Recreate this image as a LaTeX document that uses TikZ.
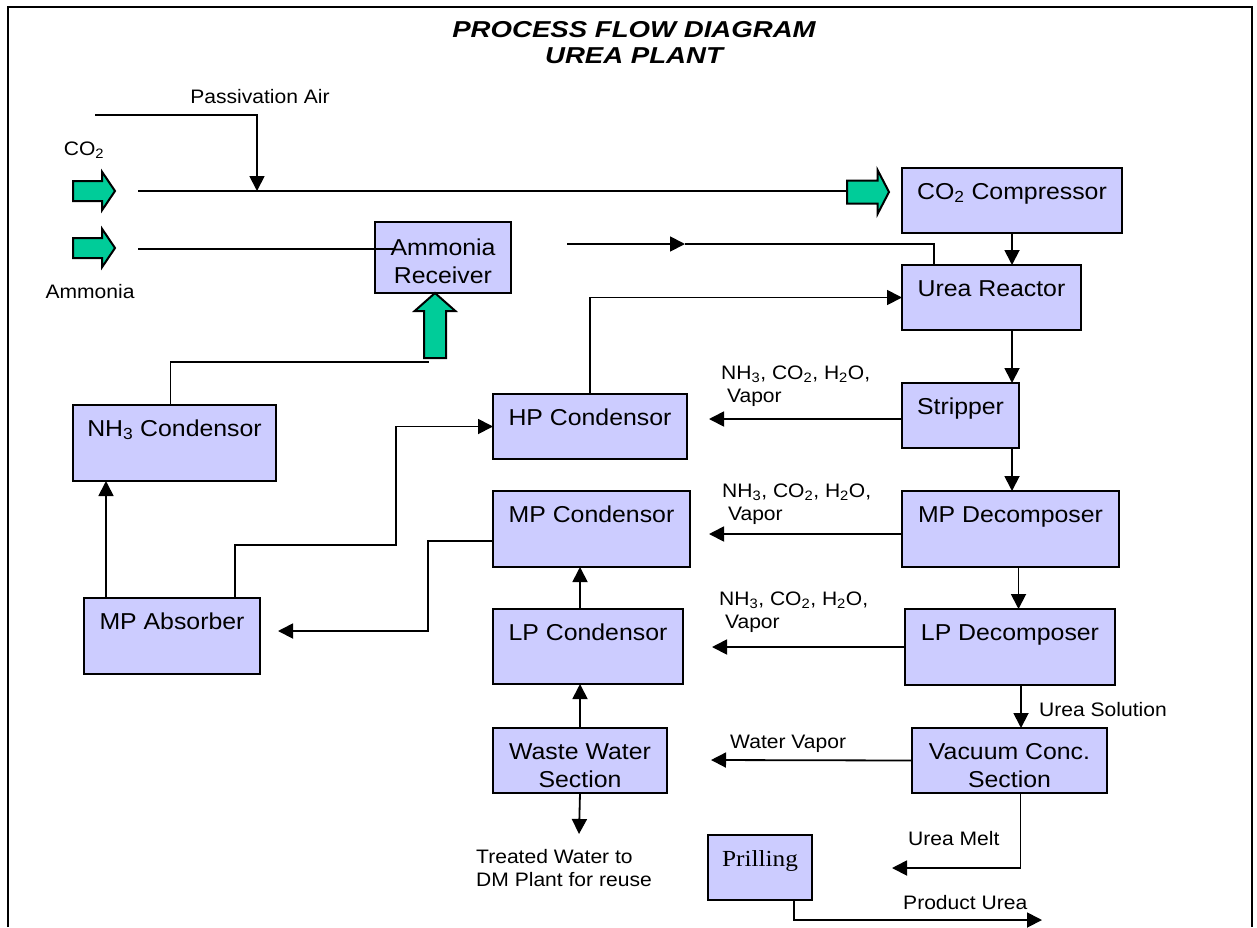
\documentclass[tikz,border=0pt]{standalone}
\usepackage{fontspec}
\setmainfont[FakeStretch=1.08]{Liberation Sans}
\newfontfamily\prillfont[FakeStretch=1.1]{Liberation Serif}
\newfontfamily\titlefont[FakeStretch=1.2]{Liberation Sans}
\usetikzlibrary{arrows.meta,shapes.arrows}

\definecolor{boxfill}{HTML}{CCCCFF}
\definecolor{feedgreen}{HTML}{00CC99}

\newcommand{\boxfont}{\fontsize{23}{28}\selectfont}
\newcommand{\lblfont}{\fontsize{19.5}{23}\selectfont}

\begin{document}
\begin{tikzpicture}[x=1pt,y=-1pt,
    unit/.style={draw,fill=boxfill,line width=2pt,inner sep=0pt,outer sep=0pt,
                 text height=31pt,align=center,font=\boxfont},
    unit2/.style={unit,text height=59.5pt,text depth=5.5pt},
    flow/.style={line width=1.8pt,-{Triangle[length=15pt,width=15pt]}},
    pipe/.style={line width=1.8pt},
    feed/.style={single arrow,draw,fill=feedgreen,line width=2pt,inner xsep=0pt,
                 outer sep=0pt,anchor=tail,single arrow head indent=0pt},
    lbl/.style={font=\lblfont,inner sep=0pt,anchor=base west,align=left}]

      \useasboundingbox (0,0) rectangle (1257,927);
      \draw[line width=2pt] (8,927) -- (8,7) -- (1252,7) -- (1252,927);

      \node[font={\titlefont\bfseries\itshape\fontsize{23}{26}\selectfont},
            align=center,inner sep=0pt,anchor=base] (title) at (634,63)
            {PROCESS FLOW DIAGRAM\\UREA PLANT};

      % right column
      \node[unit,minimum width=220pt,text depth=34pt] (co2cmp) at (1012,200.5) {CO\textsubscript{2} Compressor};
      \node[unit,minimum width=179pt,text depth=34pt] (reactor) at (991.5,297.5) {Urea Reactor};
      \node[unit,minimum width=117pt,text depth=34pt] (stripper) at (960.5,415.5) {Stripper};
      \node[unit,minimum width=217pt,text depth=45pt] (mpdec) at (1010.5,529) {MP Decomposer};
      \node[unit,minimum width=210pt,text depth=45pt] (lpdec) at (1010,647) {LP Decomposer};
      \node[unit2,minimum width=195pt] (vacuum) at (1009.5,760.5) {Vacuum Conc.\\Section};
      \node[unit,minimum width=104pt,text depth=34pt,font={\prillfont\boxfont}] (prilling) at (760,867.5) {Prilling};

      % middle column
      \node[unit,minimum width=194pt,text depth=34pt] (hpc) at (590,426.5) {HP Condensor};
      \node[unit,minimum width=197pt,text depth=45pt] (mpc) at (591.5,529) {MP Condensor};
      \node[unit,minimum width=190pt,text depth=44pt] (lpc) at (588,646.5) {LP Condensor};
      \node[unit2,minimum width=174pt] (wws) at (580,760.5) {Waste Water\\Section};

      % left column
      \node[unit2,minimum width=136pt,text height=61.5pt,text depth=9.5pt] (receiver) at (443,257.5) {Ammonia\\Receiver};
      \node[unit,minimum width=203pt,text depth=45pt] (nh3c) at (174.5,443) {NH\textsubscript{3} Condensor};
      \node[unit,minimum width=176pt,text depth=45pt] (mpa) at (172,636) {MP Absorber};

      % feed arrows
      \node[feed,minimum height=42pt,inner ysep=9pt,single arrow head extend=9pt,
            single arrow tip angle=112] (co2feed) at (73,191) {};
      \node[feed,minimum height=42pt,inner ysep=9pt,single arrow head extend=9pt,
            single arrow tip angle=112] (nh3feed) at (73,248) {};
      \node[feed,minimum height=42pt,inner ysep=10.5pt,single arrow head extend=10.5pt,
            single arrow tip angle=125] (cmpfeed) at (847,192) {};

      % labels
      \node[lbl,anchor=base] (passair) at (260,103) {Passivation Air};
      \node[lbl,anchor=base] (co2lbl) at (84,155) {CO\textsubscript{2}};
      \node[lbl,anchor=base] (nh3lbl) at (90,298) {Ammonia};
      \node[lbl] (hpvap) at (721,402) {NH\textsubscript{3}, CO\textsubscript{2}, H\textsubscript{2}O,\\\ Vapor};
      \node[lbl] (mpvap) at (722,520) {NH\textsubscript{3}, CO\textsubscript{2}, H\textsubscript{2}O,\\\ Vapor};
      \node[lbl] (lpvap) at (719,628) {NH\textsubscript{3}, CO\textsubscript{2}, H\textsubscript{2}O,\\\ Vapor};
      \node[lbl] (wvap) at (730,748) {Water Vapor};
      \node[lbl] (usol) at (1039,716) {Urea Solution};
      \node[lbl] (umelt) at (908,845) {Urea Melt};
      \node[lbl] (prod) at (903,909) {Product Urea};
      \node[lbl] (treat) at (476,886) {Treated Water to\\DM Plant for reuse};

      % free ends and bends
      \coordinate (pa) at (95,115);
      \coordinate (pajoin) at (257,191);
      \coordinate (co2start) at (138,191);
      \coordinate (nh3start) at (138,249);
      \coordinate (nh3end) at (395,249);
      \coordinate (rcvout) at (567,244);
      \coordinate (rcvmid) at (685,244);
      \coordinate (rcvjoin) at (934,264);
      \coordinate (hpin) at (709,419);
      \coordinate (mpin) at (709,534);
      \coordinate (lpin) at (712,647);
      \coordinate (wvin) at (711,760);
      \coordinate (treated) at (579,834);
      \coordinate (meltend) at (892,868);
      \coordinate (prodend) at (1042,920);
      \coordinate (nh3ret) at (429,362);
      \coordinate (bendA) at (396,545);
      \coordinate (bendB) at (428,541);
      \coordinate (mpain) at (278,631);

      \draw[flow] (pa) -| (pajoin);
      \draw[pipe] (co2start) -- (co2start -| cmpfeed.tail);
      \draw[pipe] (nh3start) -- (nh3end);
      \draw[flow] (rcvout) -- (rcvmid);
      \draw[pipe] (rcvmid) -| (rcvjoin);
      \draw[flow] (hpc.north) |- (reactor.west);
      \draw[flow] (co2cmp.south) -- (co2cmp.south |- reactor.north);
      \draw[flow] (reactor.south -| co2cmp.south) -- (stripper.north -| co2cmp.south);
      \draw[flow] (stripper.south -| co2cmp.south) -- (mpdec.north -| co2cmp.south);
      \draw[flow] ([xshift=8pt]mpdec.south) -- ([xshift=8pt]mpdec.south |- lpdec.north);
      \draw[flow] ([xshift=11pt]lpdec.south) -- ([xshift=11pt]lpdec.south |- vacuum.north);
      \draw[flow] ([xshift=11pt]vacuum.south) |- (meltend);
      \draw[flow] ([xshift=34pt]prilling.south) |- (prodend);
      \draw[flow] (hpin -| stripper.west) -- (hpin);
      \draw[flow] (mpin -| mpdec.west) -- (mpin);
      \draw[flow] (lpdec.west) -- (lpin);
      \draw[flow] (vacuum.west) -- (wvin);
      \draw[flow] (wws.north) -- (wws.north |- lpc.south);
      \draw[flow] (lpc.north -| wws.north) -- (wws.north |- mpc.south);
      \draw[flow] (wws.south) -- (treated);
      \draw[flow] ([xshift=-66pt]mpa.north) -- ([xshift=-66pt]mpa.north |- nh3c.south);
      \draw[pipe] ([xshift=-4pt]nh3c.north) |- (nh3ret);
      \draw[flow] ([xshift=63pt]mpa.north) |- (bendA) |- (hpc.west);
      \draw[flow] (bendB -| mpc.west) -- (bendB) |- (mpain);

      \node[feed,minimum height=65pt,inner ysep=10pt,single arrow head extend=9.5pt,
            single arrow tip angle=97,rotate=90] (rcvfeed) at (435,358) {};
\end{tikzpicture}
\end{document}
